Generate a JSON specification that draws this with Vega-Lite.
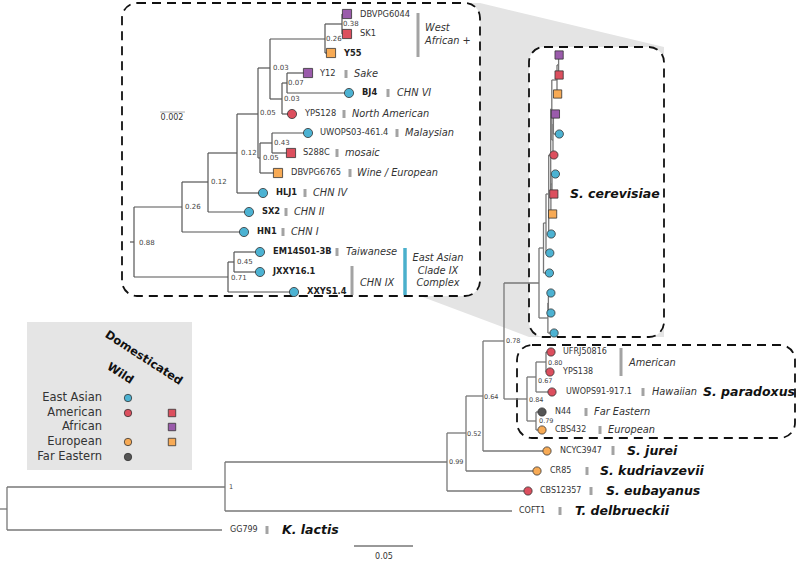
{
  "$schema": "https://vega.github.io/schema/vega-lite/v6.json",
  "width": 799,
  "height": 562,
  "autosize": {"type": "none"},
  "padding": 0,
  "background": "white",
  "config": {"view": {"stroke": null}, "font": "DejaVu Sans"},
  "datasets": {
    "wedge": [
      {"x": 420, "y": 3, "y2": 296},
      {"x": 480, "y": 3, "y2": 318.6},
      {"x": 529, "y": 14.7, "y2": 337},
      {"x": 664, "y": 47, "y2": 337}
    ],
    "boxes": [
      {"x": 122, "y": 3, "x2": 480, "y2": 296},
      {"x": 529, "y": 47, "x2": 664, "y2": 337},
      {"x": 517, "y": 345, "x2": 795, "y2": 438}
    ],
    "legendbox": [{"x": 27, "y": 322, "x2": 192, "y2": 470}],
    "tree": [
      {"p": "i", "x": 130, "y": 242, "x2": 134, "y2": 242},
      {"p": "i", "x": 134, "y": 207, "x2": 134, "y2": 277},
      {"p": "i", "x": 134, "y": 207, "x2": 182, "y2": 207},
      {"p": "i", "x": 134, "y": 277, "x2": 228, "y2": 277},
      {"p": "i", "x": 182, "y": 182, "x2": 182, "y2": 232},
      {"p": "i", "x": 182, "y": 232, "x2": 244, "y2": 232},
      {"p": "i", "x": 182, "y": 182, "x2": 208, "y2": 182},
      {"p": "i", "x": 208, "y": 153, "x2": 208, "y2": 212},
      {"p": "i", "x": 208, "y": 212, "x2": 249, "y2": 212},
      {"p": "i", "x": 208, "y": 153, "x2": 237, "y2": 153},
      {"p": "i", "x": 237, "y": 114, "x2": 237, "y2": 193},
      {"p": "i", "x": 237, "y": 193, "x2": 263, "y2": 193},
      {"p": "i", "x": 237, "y": 114, "x2": 258, "y2": 114},
      {"p": "i", "x": 258, "y": 68, "x2": 258, "y2": 158},
      {"p": "i", "x": 258, "y": 158, "x2": 260, "y2": 158},
      {"p": "i", "x": 260, "y": 143, "x2": 260, "y2": 173},
      {"p": "i", "x": 260, "y": 173, "x2": 278, "y2": 173},
      {"p": "i", "x": 260, "y": 143, "x2": 272, "y2": 143},
      {"p": "i", "x": 272, "y": 133, "x2": 272, "y2": 153},
      {"p": "i", "x": 272, "y": 133, "x2": 308, "y2": 133},
      {"p": "i", "x": 272, "y": 153, "x2": 291, "y2": 153},
      {"p": "i", "x": 258, "y": 68, "x2": 270, "y2": 68},
      {"p": "i", "x": 270, "y": 39, "x2": 270, "y2": 99},
      {"p": "i", "x": 270, "y": 99, "x2": 282, "y2": 99},
      {"p": "i", "x": 282, "y": 83, "x2": 282, "y2": 114},
      {"p": "i", "x": 282, "y": 114, "x2": 292, "y2": 114},
      {"p": "i", "x": 282, "y": 83, "x2": 287, "y2": 83},
      {"p": "i", "x": 287, "y": 73, "x2": 287, "y2": 93},
      {"p": "i", "x": 287, "y": 73, "x2": 308, "y2": 73},
      {"p": "i", "x": 287, "y": 93, "x2": 349, "y2": 93},
      {"p": "i", "x": 270, "y": 39, "x2": 325, "y2": 39},
      {"p": "i", "x": 325, "y": 24, "x2": 325, "y2": 53},
      {"p": "i", "x": 325, "y": 53, "x2": 331, "y2": 53},
      {"p": "i", "x": 325, "y": 24, "x2": 342, "y2": 24},
      {"p": "i", "x": 342, "y": 14, "x2": 342, "y2": 34},
      {"p": "i", "x": 342, "y": 14, "x2": 347, "y2": 14},
      {"p": "i", "x": 342, "y": 34, "x2": 347, "y2": 34},
      {"p": "i", "x": 228, "y": 262, "x2": 228, "y2": 292},
      {"p": "i", "x": 228, "y": 292, "x2": 294, "y2": 292},
      {"p": "i", "x": 228, "y": 262, "x2": 234, "y2": 262},
      {"p": "i", "x": 234, "y": 252, "x2": 234, "y2": 272},
      {"p": "i", "x": 234, "y": 252, "x2": 260, "y2": 252},
      {"p": "i", "x": 234, "y": 272, "x2": 260, "y2": 272},

      {"p": "m", "x": 0, "y": 509, "x2": 7, "y2": 509},
      {"p": "m", "x": 7, "y": 487, "x2": 7, "y2": 530},
      {"p": "m", "x": 7, "y": 487, "x2": 225, "y2": 487},
      {"p": "m", "x": 7, "y": 530, "x2": 222, "y2": 530},
      {"p": "m", "x": 225, "y": 462, "x2": 225, "y2": 511},
      {"p": "m", "x": 225, "y": 511, "x2": 512, "y2": 511},
      {"p": "m", "x": 225, "y": 462, "x2": 447, "y2": 462},
      {"p": "m", "x": 447, "y": 433, "x2": 447, "y2": 491},
      {"p": "m", "x": 447, "y": 491, "x2": 528, "y2": 491},
      {"p": "m", "x": 447, "y": 433, "x2": 466, "y2": 433},
      {"p": "m", "x": 466, "y": 396, "x2": 466, "y2": 471},
      {"p": "m", "x": 466, "y": 471, "x2": 537, "y2": 471},
      {"p": "m", "x": 466, "y": 396, "x2": 483, "y2": 396},
      {"p": "m", "x": 483, "y": 341, "x2": 483, "y2": 451},
      {"p": "m", "x": 483, "y": 451, "x2": 547, "y2": 451},
      {"p": "m", "x": 483, "y": 341, "x2": 504, "y2": 341},
      {"p": "m", "x": 504, "y": 283, "x2": 504, "y2": 399},
      {"p": "m", "x": 504, "y": 283, "x2": 539, "y2": 283},
      {"p": "m", "x": 504, "y": 399, "x2": 527, "y2": 399},
      {"p": "m", "x": 527, "y": 377, "x2": 527, "y2": 421},
      {"p": "m", "x": 527, "y": 377, "x2": 536, "y2": 377},
      {"p": "m", "x": 536, "y": 362, "x2": 536, "y2": 392},
      {"p": "m", "x": 536, "y": 362, "x2": 546, "y2": 362},
      {"p": "m", "x": 546, "y": 352, "x2": 546, "y2": 372},
      {"p": "m", "x": 546, "y": 352, "x2": 551, "y2": 352},
      {"p": "m", "x": 546, "y": 372, "x2": 550, "y2": 372},
      {"p": "m", "x": 536, "y": 392, "x2": 552, "y2": 392},
      {"p": "m", "x": 527, "y": 421, "x2": 536, "y2": 421},
      {"p": "m", "x": 536, "y": 412, "x2": 536, "y2": 430},
      {"p": "m", "x": 536, "y": 412, "x2": 542, "y2": 412},
      {"p": "m", "x": 536, "y": 430, "x2": 542, "y2": 430},

      {"p": "m", "x": 539, "y": 248, "x2": 539, "y2": 318},
      {"p": "m", "x": 539, "y": 248, "x2": 543.5, "y2": 248},
      {"p": "m", "x": 539, "y": 318, "x2": 547.9, "y2": 318},
      {"p": "m", "x": 543.5, "y": 223, "x2": 543.5, "y2": 273},
      {"p": "m", "x": 543.5, "y": 273, "x2": 549.4, "y2": 273},
      {"p": "m", "x": 543.5, "y": 223, "x2": 546, "y2": 223},
      {"p": "m", "x": 546, "y": 194, "x2": 546, "y2": 253},
      {"p": "m", "x": 546, "y": 253, "x2": 549.8, "y2": 253},
      {"p": "m", "x": 546, "y": 194, "x2": 548.7, "y2": 194},
      {"p": "m", "x": 548.7, "y": 155, "x2": 548.7, "y2": 234},
      {"p": "m", "x": 548.7, "y": 234, "x2": 551.2, "y2": 234},
      {"p": "m", "x": 548.7, "y": 155, "x2": 550.7, "y2": 155},
      {"p": "m", "x": 550.7, "y": 109, "x2": 550.7, "y2": 199},
      {"p": "m", "x": 550.7, "y": 199, "x2": 550.9, "y2": 199},
      {"p": "m", "x": 550.9, "y": 184, "x2": 550.9, "y2": 214},
      {"p": "m", "x": 550.9, "y": 214, "x2": 552.6, "y2": 214},
      {"p": "m", "x": 550.9, "y": 184, "x2": 552, "y2": 184},
      {"p": "m", "x": 552, "y": 174, "x2": 552, "y2": 194},
      {"p": "m", "x": 552, "y": 174, "x2": 555.4, "y2": 174},
      {"p": "m", "x": 552, "y": 194, "x2": 553.8, "y2": 194},
      {"p": "m", "x": 550.7, "y": 109, "x2": 551.8, "y2": 109},
      {"p": "m", "x": 551.8, "y": 80, "x2": 551.8, "y2": 140},
      {"p": "m", "x": 551.8, "y": 140, "x2": 553, "y2": 140},
      {"p": "m", "x": 553, "y": 124, "x2": 553, "y2": 155},
      {"p": "m", "x": 553, "y": 155, "x2": 553.9, "y2": 155},
      {"p": "m", "x": 553, "y": 124, "x2": 553.4, "y2": 124},
      {"p": "m", "x": 553.4, "y": 114, "x2": 553.4, "y2": 134},
      {"p": "m", "x": 553.4, "y": 114, "x2": 555.4, "y2": 114},
      {"p": "m", "x": 553.4, "y": 134, "x2": 559.3, "y2": 134},
      {"p": "m", "x": 551.8, "y": 80, "x2": 557, "y2": 80},
      {"p": "m", "x": 557, "y": 65, "x2": 557, "y2": 94},
      {"p": "m", "x": 557, "y": 94, "x2": 557.6, "y2": 94},
      {"p": "m", "x": 557, "y": 65, "x2": 558.6, "y2": 65},
      {"p": "m", "x": 558.6, "y": 55, "x2": 558.6, "y2": 75},
      {"p": "m", "x": 558.6, "y": 55, "x2": 559.1, "y2": 55},
      {"p": "m", "x": 558.6, "y": 75, "x2": 559.1, "y2": 75},
      {"p": "m", "x": 547.9, "y": 303, "x2": 547.9, "y2": 333},
      {"p": "m", "x": 547.9, "y": 333, "x2": 554.1, "y2": 333},
      {"p": "m", "x": 547.9, "y": 303, "x2": 548.4, "y2": 303},
      {"p": "m", "x": 548.4, "y": 293, "x2": 548.4, "y2": 313},
      {"p": "m", "x": 548.4, "y": 293, "x2": 550.9, "y2": 293},
      {"p": "m", "x": 548.4, "y": 313, "x2": 550.9, "y2": 313}
    ],
    "bars": [
      {"k": "g", "x": 418, "y": 13, "x2": 418, "y2": 57},
      {"k": "g", "x": 346, "y": 70, "x2": 346, "y2": 78},
      {"k": "g", "x": 388, "y": 89, "x2": 388, "y2": 97},
      {"k": "g", "x": 344, "y": 110, "x2": 344, "y2": 118},
      {"k": "g", "x": 397, "y": 129, "x2": 397, "y2": 137},
      {"k": "g", "x": 337, "y": 149, "x2": 337, "y2": 157},
      {"k": "g", "x": 350, "y": 169, "x2": 350, "y2": 177},
      {"k": "g", "x": 305, "y": 189, "x2": 305, "y2": 197},
      {"k": "g", "x": 286, "y": 208, "x2": 286, "y2": 216},
      {"k": "g", "x": 283, "y": 228, "x2": 283, "y2": 236},
      {"k": "g", "x": 337, "y": 248, "x2": 337, "y2": 256},
      {"k": "g", "x": 352, "y": 266, "x2": 352, "y2": 295},
      {"k": "g", "x": 621, "y": 348, "x2": 621, "y2": 376},
      {"k": "g", "x": 643, "y": 388, "x2": 643, "y2": 396},
      {"k": "g", "x": 586, "y": 408, "x2": 586, "y2": 416},
      {"k": "g", "x": 600, "y": 426, "x2": 600, "y2": 434},
      {"k": "g", "x": 613, "y": 446, "x2": 613, "y2": 455},
      {"k": "g", "x": 587, "y": 467, "x2": 587, "y2": 475},
      {"k": "g", "x": 591, "y": 487, "x2": 591, "y2": 495},
      {"k": "g", "x": 560, "y": 507, "x2": 560, "y2": 515},
      {"k": "g", "x": 267, "y": 526, "x2": 267, "y2": 534},
      {"k": "b", "x": 405, "y": 248, "x2": 405, "y2": 295}
    ],
    "scalebars": [
      {"k": "i", "x": 160, "y": 112, "x2": 185, "y2": 112},
      {"k": "m", "x": 354, "y": 546, "x2": 413, "y2": 546}
    ],
    "tips": [
      {"g": "i", "name": "DBVPG6044", "x": 347, "y": 14, "region": "African", "type": "Domesticated"},
      {"g": "i", "name": "SK1", "x": 347, "y": 34, "region": "American", "type": "Domesticated"},
      {"g": "i", "name": "Y55", "x": 331, "y": 53, "region": "European", "type": "Domesticated"},
      {"g": "i", "name": "Y12", "x": 308, "y": 73, "region": "African", "type": "Domesticated"},
      {"g": "i", "name": "BJ4", "x": 349, "y": 93, "region": "East Asian", "type": "Wild"},
      {"g": "i", "name": "YPS128", "x": 292, "y": 114, "region": "American", "type": "Wild"},
      {"g": "i", "name": "UWOPS03-461.4", "x": 308, "y": 133, "region": "East Asian", "type": "Wild"},
      {"g": "i", "name": "S288C", "x": 291, "y": 153, "region": "American", "type": "Domesticated"},
      {"g": "i", "name": "DBVPG6765", "x": 278, "y": 173, "region": "European", "type": "Domesticated"},
      {"g": "i", "name": "HLJ1", "x": 263, "y": 193, "region": "East Asian", "type": "Wild"},
      {"g": "i", "name": "SX2", "x": 249, "y": 212, "region": "East Asian", "type": "Wild"},
      {"g": "i", "name": "HN1", "x": 244, "y": 232, "region": "East Asian", "type": "Wild"},
      {"g": "i", "name": "EM14S01-3B", "x": 260, "y": 252, "region": "East Asian", "type": "Wild"},
      {"g": "i", "name": "JXXY16.1", "x": 260, "y": 272, "region": "East Asian", "type": "Wild"},
      {"g": "i", "name": "XXYS1.4", "x": 294, "y": 292, "region": "East Asian", "type": "Wild"},
      {"g": "m", "name": "DBVPG6044", "x": 559.1, "y": 55, "region": "African", "type": "Domesticated"},
      {"g": "m", "name": "SK1", "x": 559.1, "y": 75, "region": "American", "type": "Domesticated"},
      {"g": "m", "name": "Y55", "x": 557.6, "y": 94, "region": "European", "type": "Domesticated"},
      {"g": "m", "name": "Y12", "x": 555.4, "y": 114, "region": "African", "type": "Domesticated"},
      {"g": "m", "name": "BJ4", "x": 559.3, "y": 134, "region": "East Asian", "type": "Wild"},
      {"g": "m", "name": "YPS128", "x": 553.9, "y": 155, "region": "American", "type": "Wild"},
      {"g": "m", "name": "UWOPS03-461.4", "x": 555.4, "y": 174, "region": "East Asian", "type": "Wild"},
      {"g": "m", "name": "S288C", "x": 553.8, "y": 194, "region": "American", "type": "Domesticated"},
      {"g": "m", "name": "DBVPG6765", "x": 552.6, "y": 214, "region": "European", "type": "Domesticated"},
      {"g": "m", "name": "HLJ1", "x": 551.2, "y": 234, "region": "East Asian", "type": "Wild"},
      {"g": "m", "name": "SX2", "x": 549.8, "y": 253, "region": "East Asian", "type": "Wild"},
      {"g": "m", "name": "HN1", "x": 549.4, "y": 273, "region": "East Asian", "type": "Wild"},
      {"g": "m", "name": "EM14S01-3B", "x": 550.9, "y": 293, "region": "East Asian", "type": "Wild"},
      {"g": "m", "name": "JXXY16.1", "x": 550.9, "y": 313, "region": "East Asian", "type": "Wild"},
      {"g": "m", "name": "XXYS1.4", "x": 554.1, "y": 333, "region": "East Asian", "type": "Wild"},
      {"g": "m", "name": "UFRJ50816", "x": 551, "y": 352, "region": "American", "type": "Wild"},
      {"g": "m", "name": "YPS138", "x": 550, "y": 372, "region": "American", "type": "Wild"},
      {"g": "m", "name": "UWOPS91-917.1", "x": 552, "y": 392, "region": "American", "type": "Wild"},
      {"g": "m", "name": "N44", "x": 542, "y": 412, "region": "Far Eastern", "type": "Wild"},
      {"g": "m", "name": "CBS432", "x": 542, "y": 430, "region": "European", "type": "Wild"},
      {"g": "m", "name": "NCYC3947", "x": 547, "y": 451, "region": "European", "type": "Wild"},
      {"g": "m", "name": "CR85", "x": 537, "y": 471, "region": "European", "type": "Wild"},
      {"g": "m", "name": "CBS12357", "x": 528, "y": 491, "region": "American", "type": "Wild"},
      {"g": "l", "name": "East Asian wild", "x": 128, "y": 398, "region": "East Asian", "type": "Wild"},
      {"g": "l", "name": "American wild", "x": 128, "y": 413, "region": "American", "type": "Wild"},
      {"g": "l", "name": "American domesticated", "x": 172, "y": 413, "region": "American", "type": "Domesticated"},
      {"g": "l", "name": "African domesticated", "x": 172, "y": 427, "region": "African", "type": "Domesticated"},
      {"g": "l", "name": "European wild", "x": 128, "y": 442, "region": "European", "type": "Wild"},
      {"g": "l", "name": "European domesticated", "x": 172, "y": 442, "region": "European", "type": "Domesticated"},
      {"g": "l", "name": "Far Eastern wild", "x": 128, "y": 457, "region": "Far Eastern", "type": "Wild"}
    ],
    "texts": [
      {"s": "si", "t": "DBVPG6044", "x": 360, "y": 15},
      {"s": "si", "t": "SK1", "x": 360, "y": 34},
      {"s": "si", "t": "Y12", "x": 320, "y": 74},
      {"s": "si", "t": "YPS128", "x": 305, "y": 114},
      {"s": "si", "t": "UWOPS03-461.4", "x": 320, "y": 133},
      {"s": "si", "t": "S288C", "x": 303, "y": 153},
      {"s": "si", "t": "DBVPG6765", "x": 291, "y": 173},
      {"s": "sb", "t": "Y55", "x": 344, "y": 54},
      {"s": "sb", "t": "BJ4", "x": 362, "y": 93},
      {"s": "sb", "t": "HLJ1", "x": 276, "y": 193},
      {"s": "sb", "t": "SX2", "x": 262, "y": 212},
      {"s": "sb", "t": "HN1", "x": 257, "y": 232},
      {"s": "sb", "t": "EM14S01-3B", "x": 273, "y": 252},
      {"s": "sb", "t": "JXXY16.1", "x": 273, "y": 272},
      {"s": "sb", "t": "XXYS1.4", "x": 307, "y": 292},
      {"s": "it", "t": "West", "x": 425, "y": 28},
      {"s": "it", "t": "African +", "x": 425, "y": 41},
      {"s": "it", "t": "Sake", "x": 354, "y": 74},
      {"s": "it", "t": "CHN VI", "x": 397, "y": 93},
      {"s": "it", "t": "North American", "x": 352, "y": 114},
      {"s": "it", "t": "Malaysian", "x": 405, "y": 133},
      {"s": "it", "t": "mosaic", "x": 345, "y": 153},
      {"s": "it", "t": "Wine / European", "x": 357, "y": 173},
      {"s": "it", "t": "CHN IV", "x": 313, "y": 193},
      {"s": "it", "t": "CHN II", "x": 294, "y": 212},
      {"s": "it", "t": "CHN I", "x": 291, "y": 232},
      {"s": "it", "t": "Taiwanese", "x": 346, "y": 252},
      {"s": "it", "t": "CHN IX", "x": 360, "y": 283},
      {"s": "it", "t": "American", "x": 629, "y": 363},
      {"s": "it", "t": "Hawaiian", "x": 652, "y": 392},
      {"s": "it", "t": "Far Eastern", "x": 594, "y": 412},
      {"s": "it", "t": "European", "x": 608, "y": 430},
      {"s": "ic", "t": "East Asian", "x": 438, "y": 258},
      {"s": "ic", "t": "Clade IX", "x": 438, "y": 271},
      {"s": "ic", "t": "Complex", "x": 438, "y": 283},
      {"s": "sm", "t": "UFRJ50816", "x": 563, "y": 352},
      {"s": "sm", "t": "YPS138", "x": 563, "y": 372},
      {"s": "sm", "t": "UWOPS91-917.1", "x": 566, "y": 392},
      {"s": "sm", "t": "N44", "x": 555, "y": 412},
      {"s": "sm", "t": "CBS432", "x": 555, "y": 430},
      {"s": "sm", "t": "NCYC3947", "x": 560, "y": 451},
      {"s": "sm", "t": "CR85", "x": 550, "y": 471},
      {"s": "sm", "t": "CBS12357", "x": 540, "y": 491},
      {"s": "sm", "t": "COFT1", "x": 519, "y": 511},
      {"s": "sm", "t": "GG799", "x": 230, "y": 530},
      {"s": "sp", "t": "S. cerevisiae", "x": 570, "y": 194},
      {"s": "sp", "t": "S. paradoxus", "x": 703, "y": 392},
      {"s": "sp", "t": "S. jurei", "x": 627, "y": 451},
      {"s": "sp", "t": "S. kudriavzevii", "x": 600, "y": 471},
      {"s": "sp", "t": "S. eubayanus", "x": 606, "y": 491},
      {"s": "sp", "t": "T. delbrueckii", "x": 575, "y": 511},
      {"s": "sp", "t": "K. lactis", "x": 282, "y": 530},
      {"s": "bi", "t": "0.38", "x": 343, "y": 24},
      {"s": "bi", "t": "0.26", "x": 326, "y": 39},
      {"s": "bi", "t": "0.03", "x": 273, "y": 68},
      {"s": "bi", "t": "0.07", "x": 288, "y": 83},
      {"s": "bi", "t": "0.03", "x": 284, "y": 99},
      {"s": "bi", "t": "0.05", "x": 260, "y": 113},
      {"s": "bi", "t": "0.43", "x": 274, "y": 143},
      {"s": "bi", "t": "0.05", "x": 263, "y": 158},
      {"s": "bi", "t": "0.12", "x": 241, "y": 153},
      {"s": "bi", "t": "0.12", "x": 211, "y": 182},
      {"s": "bi", "t": "0.26", "x": 185, "y": 207},
      {"s": "bi", "t": "0.88", "x": 139, "y": 243},
      {"s": "bi", "t": "0.45", "x": 237, "y": 262},
      {"s": "bi", "t": "0.71", "x": 231, "y": 278},
      {"s": "bm", "t": "1", "x": 229, "y": 487},
      {"s": "bm", "t": "0.99", "x": 449, "y": 462},
      {"s": "bm", "t": "0.52", "x": 467, "y": 434},
      {"s": "bm", "t": "0.64", "x": 484, "y": 397},
      {"s": "bm", "t": "0.78", "x": 506, "y": 341},
      {"s": "bm", "t": "0.84", "x": 529, "y": 400},
      {"s": "bm", "t": "0.67", "x": 538, "y": 381},
      {"s": "bm", "t": "0.80", "x": 548, "y": 363},
      {"s": "bm", "t": "0.79", "x": 539, "y": 421},
      {"s": "lg", "t": "East Asian", "x": 102, "y": 398},
      {"s": "lg", "t": "American", "x": 102, "y": 413},
      {"s": "lg", "t": "African", "x": 102, "y": 427},
      {"s": "lg", "t": "European", "x": 102, "y": 442},
      {"s": "lg", "t": "Far Eastern", "x": 102, "y": 457},
      {"s": "lh", "t": "Domesticated", "x": 106, "y": 334},
      {"s": "lh", "t": "Wild", "x": 108, "y": 366},
      {"s": "sc", "t": "0.002", "x": 172, "y": 118},
      {"s": "sc", "t": "0.05", "x": 384, "y": 557}
    ]
  },
  "encoding": {
    "x": {"field": "x", "type": "quantitative", "scale": {"domain": [0, 799], "nice": false, "zero": false}, "axis": null},
    "y": {"field": "y", "type": "quantitative", "scale": {"domain": [0, 562], "nice": false, "zero": false, "reverse": true}, "axis": null}
  },
  "layer": [
    {
      "data": {"name": "wedge"},
      "mark": {"type": "area", "color": "#e4e4e4"},
      "encoding": {"y2": {"field": "y2"}}
    },
    {
      "data": {"name": "boxes"},
      "mark": {"type": "rect", "fill": "white", "stroke": "#111", "strokeWidth": 1.8, "strokeDash": [9, 6], "cornerRadius": 15},
      "encoding": {"x2": {"field": "x2"}, "y2": {"field": "y2"}}
    },
    {
      "data": {"name": "legendbox"},
      "mark": {"type": "rect", "fill": "#e5e5e5"},
      "encoding": {"x2": {"field": "x2"}, "y2": {"field": "y2"}}
    },
    {
      "data": {"name": "tree"},
      "transform": [{"filter": "datum.p === 'm'"}],
      "mark": {"type": "rule", "color": "#777777", "strokeWidth": 1.3},
      "encoding": {"x2": {"field": "x2"}, "y2": {"field": "y2"}}
    },
    {
      "data": {"name": "tree"},
      "transform": [{"filter": "datum.p === 'i'"}],
      "mark": {"type": "rule", "color": "#555555", "strokeWidth": 1.2},
      "encoding": {"x2": {"field": "x2"}, "y2": {"field": "y2"}}
    },
    {
      "data": {"name": "bars"},
      "transform": [{"filter": "datum.k === 'g'"}],
      "mark": {"type": "rule", "color": "#a3a3a3", "strokeWidth": 3},
      "encoding": {"x2": {"field": "x2"}, "y2": {"field": "y2"}}
    },
    {
      "data": {"name": "bars"},
      "transform": [{"filter": "datum.k === 'b'"}],
      "mark": {"type": "rule", "color": "#4bb0cc", "strokeWidth": 3.5},
      "encoding": {"x2": {"field": "x2"}, "y2": {"field": "y2"}}
    },
    {
      "data": {"name": "scalebars"},
      "transform": [{"filter": "datum.k === 'i'"}],
      "mark": {"type": "rule", "color": "#aaaaaa", "strokeWidth": 1},
      "encoding": {"x2": {"field": "x2"}, "y2": {"field": "y2"}}
    },
    {
      "data": {"name": "scalebars"},
      "transform": [{"filter": "datum.k === 'm'"}],
      "mark": {"type": "rule", "color": "#333333", "strokeWidth": 1},
      "encoding": {"x2": {"field": "x2"}, "y2": {"field": "y2"}}
    },
    {
      "data": {"name": "tips"},
      "transform": [{"filter": "datum.g === 'm'"}],
      "mark": {"type": "point", "filled": true, "opacity": 1, "stroke": "#333333", "strokeWidth": 0.8, "size": 68},
      "encoding": {
        "fill": {"field": "region", "type": "nominal", "scale": {"domain": ["East Asian", "American", "African", "European", "Far Eastern"], "range": ["#4cb2d2", "#dc4f5e", "#9a5bab", "#f7aa55", "#555555"]}, "legend": null},
        "shape": {"field": "type", "type": "nominal", "scale": {"domain": ["Wild", "Domesticated"], "range": ["circle", "square"]}, "legend": null}
      }
    },
    {
      "data": {"name": "tips"},
      "transform": [{"filter": "datum.g === 'i'"}],
      "mark": {"type": "point", "filled": true, "opacity": 1, "stroke": "#333333", "strokeWidth": 0.8, "size": 84},
      "encoding": {
        "fill": {"field": "region", "type": "nominal", "scale": {"domain": ["East Asian", "American", "African", "European", "Far Eastern"], "range": ["#4cb2d2", "#dc4f5e", "#9a5bab", "#f7aa55", "#555555"]}, "legend": null},
        "shape": {"field": "type", "type": "nominal", "scale": {"domain": ["Wild", "Domesticated"], "range": ["circle", "square"]}, "legend": null}
      }
    },
    {
      "data": {"name": "tips"},
      "transform": [{"filter": "datum.g === 'l'"}],
      "mark": {"type": "point", "filled": true, "opacity": 1, "stroke": "#333333", "strokeWidth": 0.8, "size": 55},
      "encoding": {
        "fill": {"field": "region", "type": "nominal", "scale": {"domain": ["East Asian", "American", "African", "European", "Far Eastern"], "range": ["#4cb2d2", "#dc4f5e", "#9a5bab", "#f7aa55", "#555555"]}, "legend": null},
        "shape": {"field": "type", "type": "nominal", "scale": {"domain": ["Wild", "Domesticated"], "range": ["circle", "square"]}, "legend": null}
      }
    },
    {
      "data": {"name": "texts"},
      "transform": [{"filter": "datum.s === 'si'"}],
      "mark": {"type": "text", "align": "left", "baseline": "middle", "fontSize": 8.3, "color": "#333333"},
      "encoding": {"text": {"field": "t"}}
    },
    {
      "data": {"name": "texts"},
      "transform": [{"filter": "datum.s === 'sb'"}],
      "mark": {"type": "text", "align": "left", "baseline": "middle", "fontSize": 8.3, "fontWeight": "bold", "color": "#222222"},
      "encoding": {"text": {"field": "t"}}
    },
    {
      "data": {"name": "texts"},
      "transform": [{"filter": "datum.s === 'it'"}],
      "mark": {"type": "text", "align": "left", "baseline": "middle", "fontSize": 9.8, "fontStyle": "italic", "color": "#333333"},
      "encoding": {"text": {"field": "t"}}
    },
    {
      "data": {"name": "texts"},
      "transform": [{"filter": "datum.s === 'ic'"}],
      "mark": {"type": "text", "align": "center", "baseline": "middle", "fontSize": 9.8, "fontStyle": "italic", "color": "#333333"},
      "encoding": {"text": {"field": "t"}}
    },
    {
      "data": {"name": "texts"},
      "transform": [{"filter": "datum.s === 'sm'"}],
      "mark": {"type": "text", "align": "left", "baseline": "middle", "fontSize": 8, "color": "#333333"},
      "encoding": {"text": {"field": "t"}}
    },
    {
      "data": {"name": "texts"},
      "transform": [{"filter": "datum.s === 'sp'"}],
      "mark": {"type": "text", "align": "left", "baseline": "middle", "fontSize": 12.5, "fontWeight": "bold", "fontStyle": "italic", "color": "#111111"},
      "encoding": {"text": {"field": "t"}}
    },
    {
      "data": {"name": "texts"},
      "transform": [{"filter": "datum.s === 'bi'"}],
      "mark": {"type": "text", "align": "left", "baseline": "middle", "fontSize": 7, "color": "#444444"},
      "encoding": {"text": {"field": "t"}}
    },
    {
      "data": {"name": "texts"},
      "transform": [{"filter": "datum.s === 'bm'"}],
      "mark": {"type": "text", "align": "left", "baseline": "middle", "fontSize": 6.5, "color": "#444444"},
      "encoding": {"text": {"field": "t"}}
    },
    {
      "data": {"name": "texts"},
      "transform": [{"filter": "datum.s === 'lg'"}],
      "mark": {"type": "text", "align": "right", "baseline": "middle", "fontSize": 11.5, "color": "#333333"},
      "encoding": {"text": {"field": "t"}}
    },
    {
      "data": {"name": "texts"},
      "transform": [{"filter": "datum.s === 'lh'"}],
      "mark": {"type": "text", "align": "left", "baseline": "middle", "fontSize": 11.5, "fontWeight": "bold", "angle": 33, "color": "#111111"},
      "encoding": {"text": {"field": "t"}}
    },
    {
      "data": {"name": "texts"},
      "transform": [{"filter": "datum.s === 'sc'"}],
      "mark": {"type": "text", "align": "center", "baseline": "middle", "fontSize": 8, "color": "#333333"},
      "encoding": {"text": {"field": "t"}}
    }
  ]
}
